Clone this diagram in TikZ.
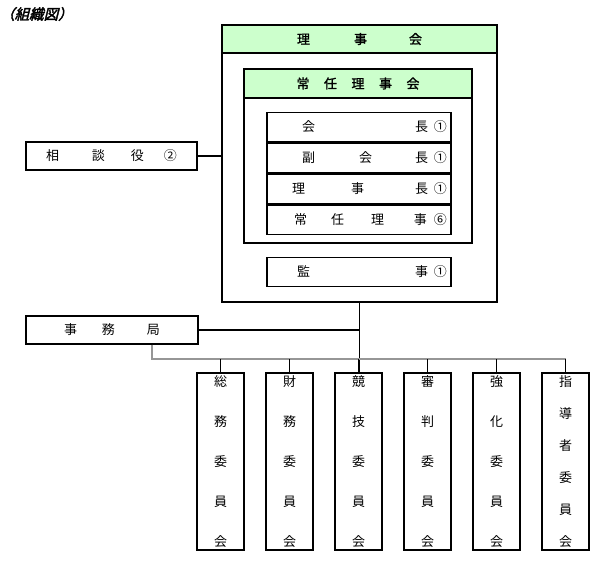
\documentclass[tikz,border=0pt]{standalone}
\usepackage{fontspec}
\usetikzlibrary{positioning}
\newfontfamily\jp{Noto Sans CJK JP}
\newfontfamily\jpbold{Noto Sans CJK JP}[FakeBold=1.5]
\newfontfamily\jptitle{Noto Sans CJK JP}[FakeBold=2.5,FakeSlant=0.25]
\definecolor{headgreen}{RGB}{204,255,204}
\definecolor{busgray}{RGB}{150,150,150}

\begin{document}
\begin{tikzpicture}[x=1pt,y=-1pt,
  every node/.style={font=\jp\fontsize{13}{15}\selectfont,inner sep=0pt},
  box/.style={draw,line width=1.4pt},
  headbox/.style={draw,line width=1.2pt,fill=headgreen,font=\jpbold\fontsize{13}{15}\selectfont},
  row/.style={box,minimum width=184,minimum height=29.5},
  cmt/.style={draw,line width=1.8pt,minimum width=47,minimum height=177,align=center,font=\jp\fontsize{13}{40}\selectfont},
  link/.style={line width=1.2pt}]
  \useasboundingbox (0,0) rectangle (600,566);
  \node[anchor=west,font=\jptitle\fontsize{14.5}{16}\selectfont] (title) at (0,14) {（組織図）};
  % board
  \node[headbox,minimum width=275,minimum height=28] (boardhead) at (359.5,39) {理\hspace{44pt}事\hspace{42pt}会};
  \node[draw,line width=2.5pt,minimum width=275,minimum height=277] (board) at (359.5,163.5) {};
  \node[box,minimum width=228,minimum height=174] (jonin) at (358,156) {};
  \node[headbox,minimum width=228,minimum height=29] (joninhead) at (358,83.5) {常\hspace{14.5pt}任\hspace{14.5pt}理\hspace{14.5pt}事\hspace{14.5pt}会};
  \node[row] (r1) at (359,127) {\makebox[176pt][r]{会\hspace{100pt}長\hspace{6pt}①}};
  \node[row,below=0pt of r1] (r2) {\makebox[176pt][r]{副\hspace{44pt}会\hspace{43pt}長\hspace{6pt}①}};
  \node[row,below=0pt of r2] (r3) {\makebox[176pt][r]{理\hspace{46pt}事\hspace{51pt}長\hspace{6pt}①}};
  \node[row,below=0pt of r3] (r4) {\makebox[176pt][r]{常\hspace{24pt}任\hspace{27pt}理\hspace{30pt}事\hspace{7pt}⑥}};
  \node[row] (kanji) at (359,272) {\makebox[176pt][r]{監\hspace{105pt}事\hspace{6pt}①}};
  % side boxes
  \node[box,minimum width=171,minimum height=28] (soudan) at (111.5,156) {相\hspace{33pt}談\hspace{26pt}役\hspace{20pt}②};
  \node[box,minimum width=172,minimum height=28] (jimu) at (112,330) {事\hspace{25pt}務\hspace{32pt}局};
  % committees
  \node[cmt] (c1) at (220.5,461.5) {総\\務\\委\\員\\会};
  \node[cmt,right=20.2pt of c1] (c2) {財\\務\\委\\員\\会};
  \node[cmt,right=20.2pt of c2] (c3) {競\\技\\委\\員\\会};
  \node[cmt,right=20.2pt of c3] (c4) {審\\判\\委\\員\\会};
  \node[cmt,right=20.2pt of c4] (c5) {強\\化\\委\\員\\会};
  \node[cmt,right=20.2pt of c5,font=\jp\fontsize{13}{32}\selectfont] (c6) {指\\導\\者\\委\\員\\会};
  % connectors
  \draw[link] (soudan.east) -- (soudan.east -| board.west);
  \draw[link] (jimu.east) -- (jimu.east -| board.south);
  \draw[link] (board.south) -- (board.south |- c3.north);
  \coordinate (busL) at (152,359);
  \coordinate (busR) at (c6.north |- busL);
  \draw[link,busgray] (jimu.south -| busL) -- (busL) -- (busR);
  \foreach \i in {1,...,6}
    \draw[link] (c\i.north |- busL) -- (c\i.north);
\end{tikzpicture}
\end{document}
